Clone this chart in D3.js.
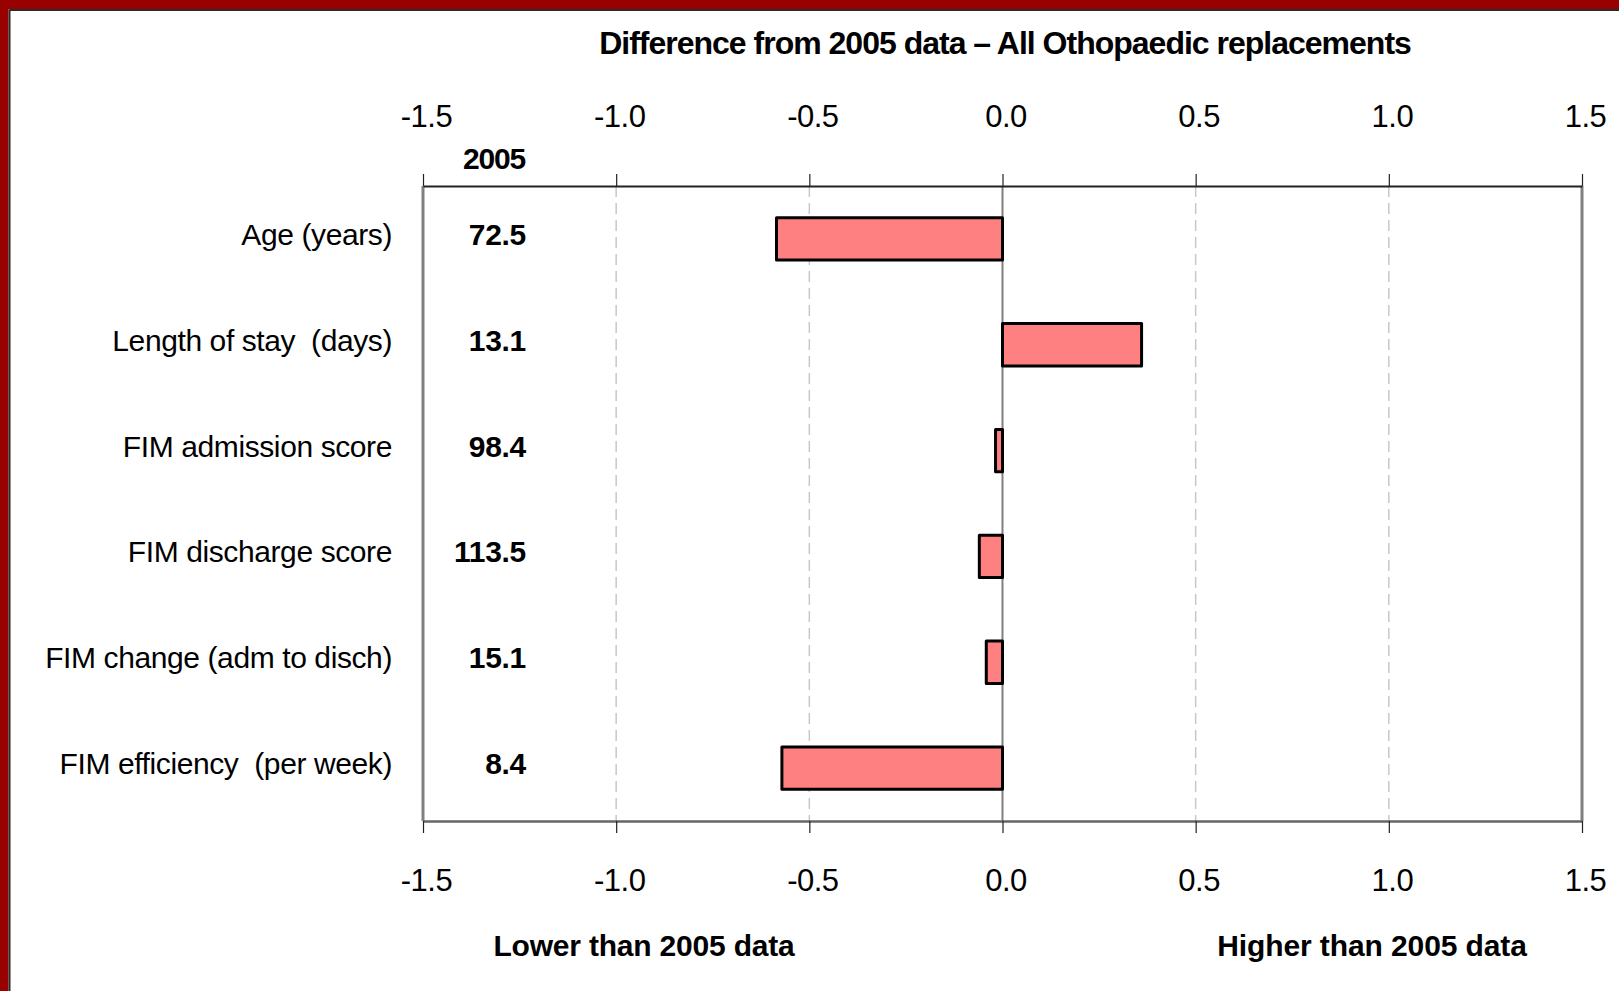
<!DOCTYPE html>
<html>
<head>
<meta charset="utf-8">
<script src="https://cdn.jsdelivr.net/npm/d3@7/dist/d3.min.js"></script>
<style>
  html, body { margin: 0; padding: 0; background: #fff; }
  svg { display: block; }
  text { font-family: "Liberation Sans", Arial, sans-serif; fill: #000; white-space: pre; }
</style>
</head>
<body>
<svg id="chart" width="1619" height="991"></svg>
<script>
// Measures compared with the 2005 reference year
const categories = [
  "Age (years)",
  "Length of stay  (days)",
  "FIM admission score",
  "FIM discharge score",
  "FIM change (adm to disch)",
  "FIM efficiency  (per week)"
];
// 2005 reference values shown beside each measure
const values2005 = ["72.5", "13.1", "98.4", "113.5", "15.1", "8.4"];
// Difference from the 2005 data
const differences = [-0.585, 0.36, -0.018, -0.06, -0.042, -0.571];
// Axis ticks
const tickValues = [-1.5, -1.0, -0.5, 0.0, 0.5, 1.0, 1.5];

const W = 1619, H = 991;
const plot = { left: 423, right: 1582, top: 186, bottom: 821 };

const svg = d3.select("#chart");

// frame along the top and left edges
svg.append("rect").attr("x", 0).attr("y", 0).attr("width", W).attr("height", 9.5).attr("fill", "#990000");
svg.append("rect").attr("x", 0).attr("y", 0).attr("width", 8.5).attr("height", H).attr("fill", "#990000");
svg.append("line").attr("x1", 9.5).attr("x2", W).attr("y1", 10).attr("y2", 10)
  .attr("stroke", "#2a2a2a").attr("stroke-width", 2);
svg.append("line").attr("x1", 9.5).attr("x2", 9.5).attr("y1", 10).attr("y2", H)
  .attr("stroke", "#2a2a2a").attr("stroke-width", 2);

const x = d3.scaleLinear().domain([-1.5, 1.5]).range([plot.left, plot.right]);
const y = d3.scaleBand().domain(categories).range([plot.top, plot.bottom]).paddingInner(0.6).paddingOuter(0.3);
const fmt = d => d.toFixed(1);

// dashed vertical grid
svg.append("g").selectAll("line")
  .data(tickValues.filter(v => v !== 0 && Math.abs(v) !== 1.5))
  .join("line")
  .attr("x1", d => x(d)).attr("x2", d => x(d))
  .attr("y1", plot.top).attr("y2", plot.bottom)
  .attr("stroke", "#c8c8c8").attr("stroke-width", 1.5).attr("stroke-dasharray", "11,6");

// plot side borders
svg.append("line").attr("x1", plot.left).attr("x2", plot.left).attr("y1", plot.top).attr("y2", plot.bottom)
  .attr("stroke", "#808080").attr("stroke-width", 3);
svg.append("line").attr("x1", plot.right).attr("x2", plot.right).attr("y1", plot.top).attr("y2", plot.bottom)
  .attr("stroke", "#808080").attr("stroke-width", 3);

// zero line
svg.append("line").attr("x1", x(0)).attr("x2", x(0)).attr("y1", plot.top).attr("y2", plot.bottom)
  .attr("stroke", "#808080").attr("stroke-width", 2);

// bars
svg.append("g").selectAll("rect")
  .data(categories.map((c, i) => ({ c, v: differences[i] })))
  .join("rect")
  .attr("x", d => x(Math.min(0, d.v)))
  .attr("width", d => Math.abs(x(d.v) - x(0)))
  .attr("y", d => y(d.c))
  .attr("height", y.bandwidth())
  .attr("fill", "#FF8080")
  .attr("stroke", "#000")
  .attr("stroke-width", 3)
  .attr("stroke-linejoin", "round");

// top axis
const topAxis = svg.append("g").attr("transform", `translate(0,${plot.top})`)
  .call(d3.axisTop(x).tickValues(tickValues).tickFormat(fmt).tickSize(12).tickSizeOuter(0).tickPadding(47));
topAxis.select(".domain").attr("stroke", "#222").attr("stroke-width", 2);
topAxis.selectAll(".tick line").attr("stroke", "#222").attr("stroke-width", 1.2);
topAxis.selectAll(".tick text")
  .attr("font-size", 31).attr("letter-spacing", -0.5).attr("font-family", "Liberation Sans, Arial, sans-serif")
  .attr("fill", "#111").attr("dx", 3);

// bottom axis
const botAxis = svg.append("g").attr("transform", `translate(0,${plot.bottom})`)
  .call(d3.axisBottom(x).tickValues(tickValues).tickFormat(fmt).tickSize(12).tickSizeOuter(0).tickPadding(36));
botAxis.select(".domain").attr("stroke", "#666").attr("stroke-width", 2.5);
botAxis.selectAll(".tick line").attr("stroke", "#222").attr("stroke-width", 1.2);
botAxis.selectAll(".tick text")
  .attr("font-size", 31).attr("letter-spacing", -0.5).attr("font-family", "Liberation Sans, Arial, sans-serif")
  .attr("fill", "#111").attr("dx", 3);

// category labels
svg.append("g").selectAll("text")
  .data(categories)
  .join("text")
  .attr("x", 392)
  .attr("y", d => y(d) + y.bandwidth() / 2 + 6)
  .attr("text-anchor", "end")
  .attr("font-size", 30)
  .attr("letter-spacing", -0.4)
  .text(d => d);

// 2005 values column
svg.append("text")
  .attr("x", 525).attr("y", 169)
  .attr("text-anchor", "end").attr("font-size", 30).attr("font-weight", "bold").attr("letter-spacing", -1.2)
  .text("2005");
svg.append("g").selectAll("text")
  .data(categories.map((c, i) => ({ c, t: values2005[i] })))
  .join("text")
  .attr("x", 526)
  .attr("y", d => y(d.c) + y.bandwidth() / 2 + 6)
  .attr("text-anchor", "end")
  .attr("font-size", 30)
  .attr("font-weight", "bold")
  .attr("letter-spacing", -0.3)
  .text(d => d.t);

// title
svg.append("text")
  .attr("x", 1005).attr("y", 54)
  .attr("text-anchor", "middle").attr("font-size", 32).attr("font-weight", "bold").attr("letter-spacing", -1)
  .text("Difference from 2005 data \u2013 All Othopaedic replacements");

// direction labels
svg.append("text")
  .attr("x", 644).attr("y", 956)
  .attr("text-anchor", "middle").attr("font-size", 30).attr("font-weight", "bold").attr("letter-spacing", -0.2)
  .text("Lower than 2005 data");
svg.append("text")
  .attr("x", 1372).attr("y", 956)
  .attr("text-anchor", "middle").attr("font-size", 30).attr("font-weight", "bold").attr("letter-spacing", -0.1)
  .text("Higher than 2005 data");
</script>
</body>
</html>
